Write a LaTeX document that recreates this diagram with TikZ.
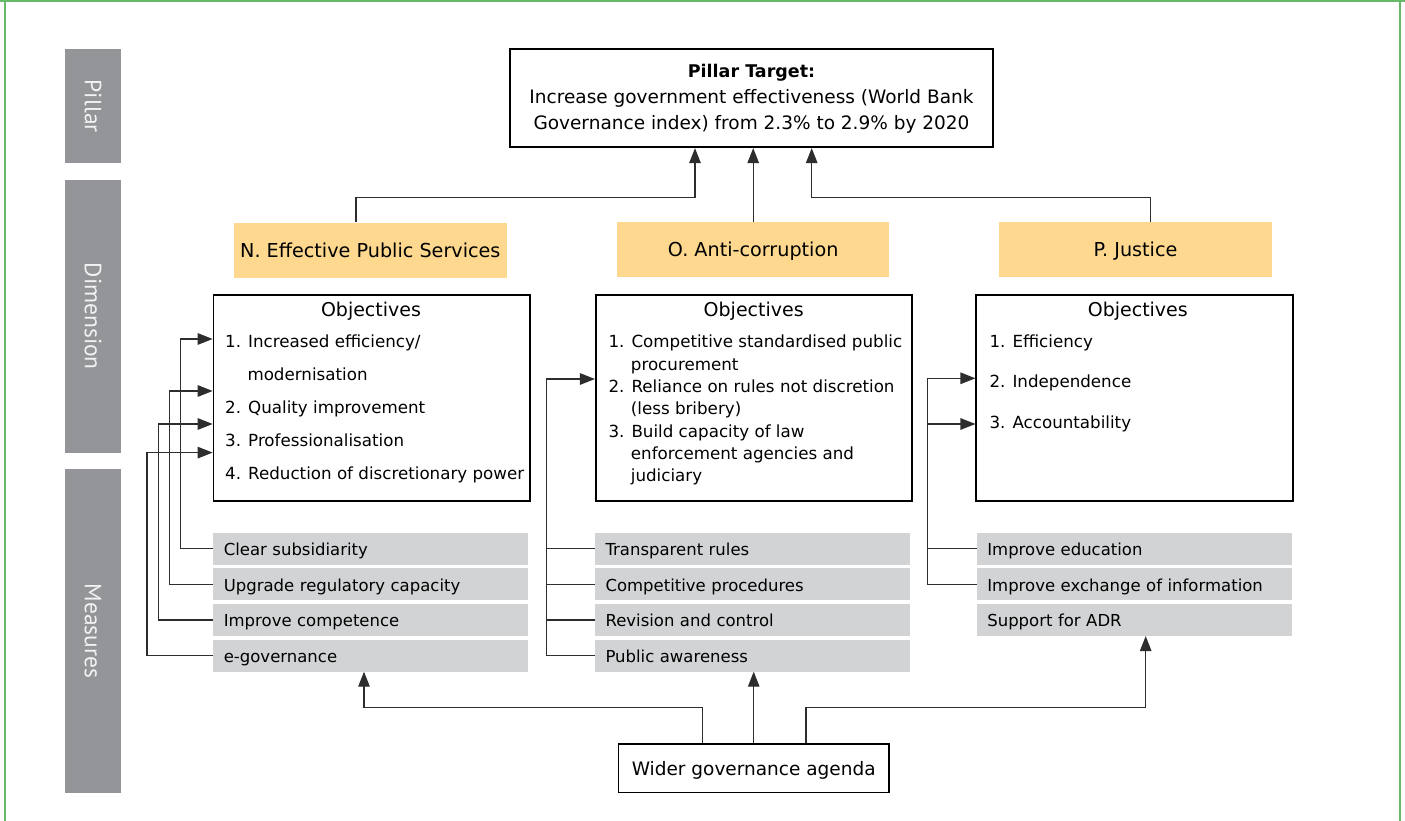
\documentclass[tikz,border=0pt]{standalone}
\usepackage{fontspec}
\setmainfont{DejaVu Sans}
\newfontfamily\sidefont{PT Sans}
\usepackage{tikz}
\usetikzlibrary{arrows.meta}
\definecolor{framegreen}{RGB}{104,186,104}
\definecolor{sidegray}{RGB}{147,149,152}
\definecolor{sidetext}{RGB}{242,242,243}
\definecolor{dimorange}{RGB}{253,216,142}
\definecolor{measgray}{RGB}{209,211,212}
\definecolor{linegray}{RGB}{45,45,45}

\begin{document}
\begin{tikzpicture}
[every node/.style={inner sep=0pt},
 sidebar/.style={rectangle, rotate=-90, fill=sidegray, minimum height=56pt, text=sidetext, font=\sidefont\fontsize{23.5}{24}\selectfont},
 dimbox/.style={rectangle, fill=dimorange, minimum width=272.5pt, minimum height=55pt, text height=14pt, text depth=0pt, font=\fontsize{19.2}{23}\selectfont},
 objbox/.style={rectangle, draw=black, line width=1.6pt, minimum width=316.5pt, minimum height=205.7pt},
 objhead/.style={anchor=base, font=\fontsize{19}{23}\selectfont},
 objitem/.style={anchor=base west, font=\fontsize{16.7}{20}\selectfont},
 measbar/.style={rectangle, fill=measgray, inner xsep=10.5pt, text width=294pt, align=left, minimum height=32pt, text height=14pt, text depth=0pt, font=\fontsize{16.5}{20}\selectfont},
 flow/.style={line width=1.2pt, color=linegray},
 flowarrow/.style={flow, -{Triangle[length=15pt, width=11.5pt]}}]
\useasboundingbox (0pt, 0pt) rectangle (1405pt, -821pt);
\draw [framegreen, line width=1.5pt] (0pt, -1.2pt) -- (1405pt, -1.2pt);
\draw [framegreen, line width=1.5pt] (5pt, -1.2pt) -- (5pt, -821pt);
\draw [framegreen, line width=1.5pt] (1400pt, -1.2pt) -- (1400pt, -821pt);
\node (pillar) [sidebar, minimum width=114.5pt] at (93pt, -106.25pt) {Pillar};
\node (dimension) [sidebar, minimum width=272.5pt] at (93pt, -316.25pt) {Dimension};
\node (measures) [sidebar, minimum width=324pt] at (93pt, -631pt) {Measures};
\node (target) [rectangle, draw=black, line width=1.6pt, minimum width=483pt, minimum height=98pt, align=center, font=\fontsize{18.5}{26}\selectfont] at (751.5pt, -98.3pt) {{\fontsize{17.5}{26}\selectfont\bfseries Pillar Target:}\\Increase government effectiveness (World Bank\\Governance index) from 2.3\% to 2.9\% by 2020};
\node (dimN) [dimbox] at (370.3pt, -250pt) {N. Effective Public Services};
\node (dimO) [dimbox] at (753.2pt, -249.8pt) {O. Anti-corruption};
\node (dimP) [dimbox] at (1135.5pt, -249.8pt) {P. Justice};
\node (objN) [objbox] at (371.7pt, -397.9pt) {};
\node (objO) [objbox] at (754pt, -397.9pt) {};
\node (objP) [objbox] at (1134.5pt, -397.9pt) {};
\node (headN) [objhead] at (371pt, -316pt) {Objectives};
\node (headO) [objhead] at (753.7pt, -316pt) {Objectives};
\node (headP) [objhead] at (1137.8pt, -316pt) {Objectives};
\node (itemN1) [objitem] at (225pt, -347.3pt) {1. Increased efficiency/};
\node (itemN1b) [objitem] at (247.3pt, -380.7pt) {modernisation};
\node (itemN2) [objitem] at (225pt, -413.3pt) {2. Quality improvement};
\node (itemN3) [objitem] at (225pt, -446.7pt) {3. Professionalisation};
\node (itemN4) [objitem] at (225pt, -479.3pt) {4. Reduction of discretionary power};
\node (itemO1) [objitem] at (608.3pt, -347.7pt) {1. Competitive standardised public};
\node (itemO1b) [objitem] at (630.7pt, -370pt) {procurement};
\node (itemO2) [objitem] at (608.3pt, -392.3pt) {2. Reliance on rules not discretion};
\node (itemO2b) [objitem] at (630.7pt, -414.7pt) {(less bribery)};
\node (itemO3) [objitem] at (608.3pt, -437.3pt) {3. Build capacity of law};
\node (itemO3b) [objitem] at (630.7pt, -459.3pt) {enforcement agencies and};
\node (itemO3c) [objitem] at (630.7pt, -481.7pt) {judiciary};
\node (itemP1) [objitem] at (989.3pt, -347.7pt) {1. Efficiency};
\node (itemP2) [objitem] at (989.3pt, -387.3pt) {2. Independence};
\node (itemP3) [objitem] at (989.3pt, -428.3pt) {3. Accountability};
\node (measN1) [measbar] at (370.8pt, -548.7pt) {Clear subsidiarity};
\node (measN2) [measbar] at (370.8pt, -584.3pt) {Upgrade regulatory capacity};
\node (measN3) [measbar] at (370.8pt, -619.9pt) {Improve competence};
\node (measN4) [measbar] at (370.8pt, -655.5pt) {e-governance};
\node (measO1) [measbar] at (752.5pt, -548.7pt) {Transparent rules};
\node (measO2) [measbar] at (752.5pt, -584.3pt) {Competitive procedures};
\node (measO3) [measbar] at (752.5pt, -619.9pt) {Revision and control};
\node (measO4) [measbar] at (752.5pt, -655.5pt) {Public awareness};
\node (measP1) [measbar] at (1134.3pt, -548.7pt) {Improve education};
\node (measP2) [measbar] at (1134.3pt, -584.3pt) {Improve exchange of information};
\node (measP3) [measbar] at (1134.3pt, -619.9pt) {Support for ADR};
\node (wider) [rectangle, draw=black, line width=1.6pt, minimum width=270.7pt, minimum height=48.7pt, text height=14pt, text depth=0pt, font=\fontsize{18.5}{22}\selectfont] at (753.7pt, -768.3pt) {Wider governance agenda};
\coordinate (spineN1) at (180.7pt, -339pt);
\coordinate (spineN2) at (169.3pt, -391pt);
\coordinate (spineN3) at (158.5pt, -424pt);
\coordinate (spineN4) at (147pt, -452.6pt);
\coordinate (spineO) at (546.7pt, -379pt);
\coordinate (spineP2) at (927.3pt, -378.3pt);
\coordinate (spineP3) at (927.3pt, -424pt);
\coordinate (splitN) at (364pt, -707.7pt);
\coordinate (splitP) at (1145.7pt, -707.7pt);
\draw [flowarrow] ([xshift=-14.3pt]dimN.north) -- ++(0pt, 24.6pt) -| ([xshift=-56.5pt]target.south);
\draw [flowarrow] (dimO.north) -- (dimO.north |- target.south);
\draw [flowarrow] ([xshift=14.8pt]dimP.north) -- ++(0pt, 24.6pt) -| ([xshift=60.2pt]target.south);
\draw [flowarrow] (measN1.west) -| (spineN1) -- (spineN1 -| objN.west);
\draw [flowarrow] (measN2.west) -| (spineN2) -- (spineN2 -| objN.west);
\draw [flowarrow] (measN3.west) -| (spineN3) -- (spineN3 -| objN.west);
\draw [flowarrow] (measN4.west) -| (spineN4) -- (spineN4 -| objN.west);
\draw [flowarrow] (measO4.west) -| (spineO) -- (spineO -| objO.west);
\draw [flow] (measO1.west) -- (measO1.west -| spineO);
\draw [flow] (measO2.west) -- (measO2.west -| spineO);
\draw [flow] (measO3.west) -- (measO3.west -| spineO);
\draw [flowarrow] (measP2.west) -| (spineP2) -- (spineP2 -| objP.west);
\draw [flowarrow] (spineP3) -- (spineP3 -| objP.west);
\draw [flow] (measP1.west) -- (measP1.west -| spineP2);
\draw [flowarrow] ([xshift=-51pt]wider.north) |- (splitN) -- (splitN |- measN4.south);
\draw [flowarrow] (wider.north) -- (wider.north |- measO4.south);
\draw [flowarrow] ([xshift=52.3pt]wider.north) |- (splitP) -- (splitP |- measP3.south);
\end{tikzpicture}
\end{document}
